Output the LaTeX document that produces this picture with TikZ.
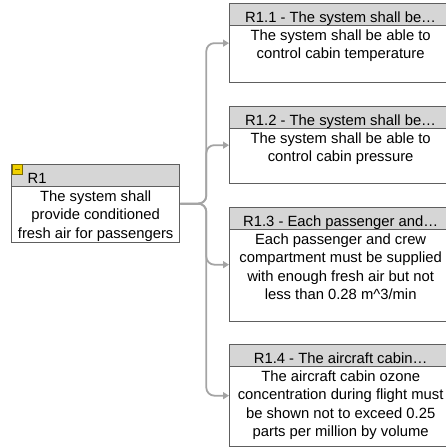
\documentclass[tikz,border=0pt]{standalone}
\usepackage{fontspec}
\setmainfont{Liberation Sans}
\usetikzlibrary{positioning, arrows.meta}
\definecolor{boxgray}{HTML}{5E5E5E}
\definecolor{hdgray}{HTML}{D6D6D6}
\definecolor{lnkgray}{HTML}{A4A4A4}
\definecolor{iconyel}{HTML}{F0D000}
\definecolor{iconrim}{HTML}{7A6A00}

\begin{document}
\begin{tikzpicture}[x=1pt, y=1pt, font=\fontsize{14.8}{18.5}\selectfont,
  >={Triangle[length=6pt, width=7pt]},
  req/.style={draw=boxgray, line width=1.3pt, fill=white, anchor=north west, minimum width=222pt, inner sep=0pt},
  hd/.style={draw=boxgray, line width=1.3pt, fill=hdgray, anchor=north west, minimum width=222pt, inner ysep=0pt, text height=19pt, text depth=3pt},
  txt/.style={align=center, inner sep=0pt},
  icon/.style={draw=iconrim, line width=0.8pt, fill=iconyel, anchor=north west, minimum size=10pt, inner sep=0pt,
    path picture={\draw[line width=1.2pt] ([xshift=2.5pt]path picture bounding box.west) -- ([xshift=-2.5pt]path picture bounding box.east);}},
  link/.style={draw=lnkgray, line width=1.8pt, rounded corners=8pt, ->}]
  \useasboundingbox (0,0) rectangle (446,-448);

  % parent requirement
  \node[req, minimum width=168pt, minimum height=78pt] (r1) at (11,-164) {};
  \node[hd, minimum width=168pt, text width=136pt, inner xsep=16pt, align=left] (r1h) at (r1.north west) {R1};
  \node[icon] (r1ic) at ([xshift=1pt]r1.north west) {};
  \node[txt, below=3pt of r1h] (r1t) {The system shall\\provide conditioned\\fresh air for passengers};

  % child requirements
  \node[req, minimum height=79pt] (r11) at (229,-3) {};
  \node[hd] (r11h) at (r11.north west) {R1.1 - The system shall be…};
  \node[txt, below=3pt of r11h] (r11t) {The system shall be able to\\control cabin temperature};

  \node[req, minimum height=77pt] (r12) at (229,-106) {};
  \node[hd] (r12h) at (r12.north west) {R1.2 - The system shall be…};
  \node[txt, below=3pt of r12h] (r12t) {The system shall be able to\\control cabin pressure};

  \node[req, minimum height=114pt] (r13) at (229,-207) {};
  \node[hd] (r13h) at (r13.north west) {R1.3 - Each passenger and…};
  \node[txt, below=3pt of r13h] (r13t) {Each passenger and crew\\compartment must be supplied\\with enough fresh air but not\\less than 0.28 m\textasciicircum 3/min};

  \node[req, minimum height=102pt] (r14) at (229,-344) {};
  \node[hd] (r14h) at (r14.north west) {R1.4 - The aircraft cabin…};
  \node[txt, below=3pt of r14h] (r14t) {The aircraft cabin ozone\\concentration during flight must\\be shown not to exceed 0.25\\parts per million by volume};

  % links
  \coordinate[right=26pt of r1.east] (tr);
  \draw[link] (r1.east) -- (tr) |- (r11.west);
  \draw[link] (r1.east) -- (tr) |- (r12.west);
  \draw[link] (r1.east) -- (tr) |- (r13.west);
  \draw[link] (r1.east) -- (tr) |- (r14.west);
\end{tikzpicture}
\end{document}
